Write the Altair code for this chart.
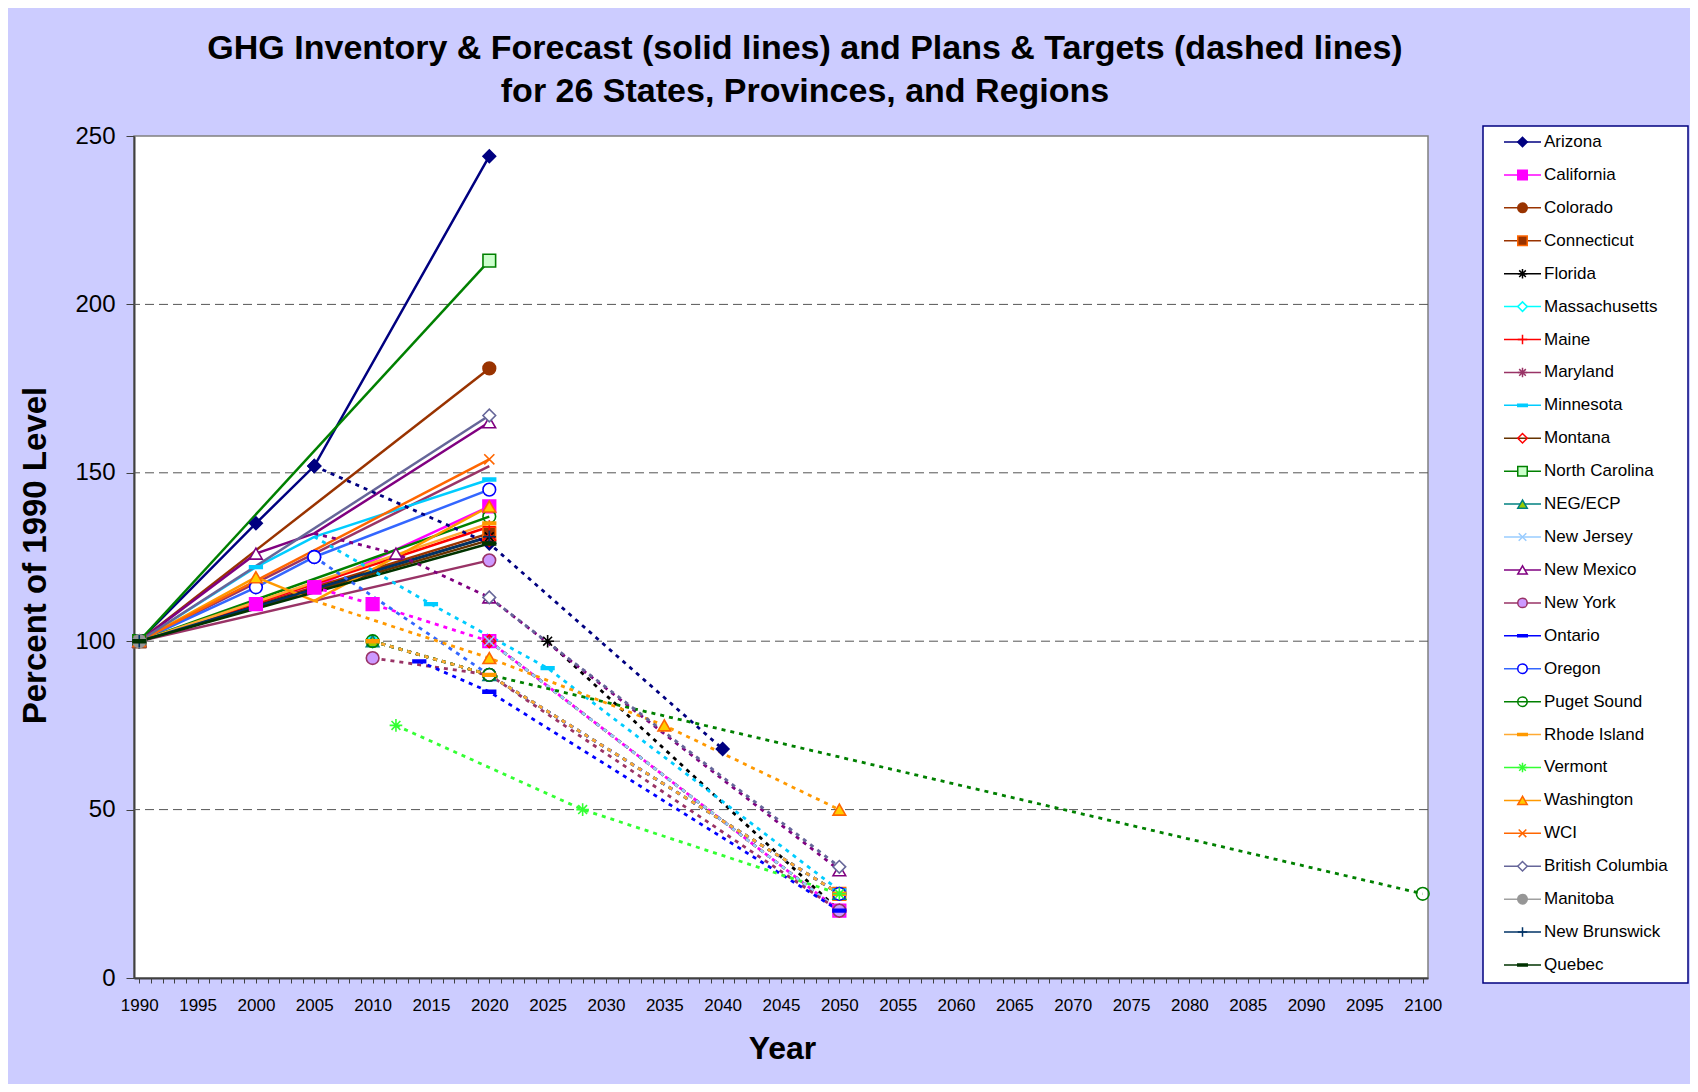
import altair as alt
import pandas as pd

# ---------------- data ----------------
SERIES = ["Arizona", "California", "Colorado", "Connecticut", "Florida",
          "Massachusetts", "Maine", "Maryland", "Minnesota", "Montana",
          "North Carolina", "NEG/ECP", "New Jersey", "New Mexico", "New York",
          "Ontario", "Oregon", "Puget Sound", "Rhode Island", "Vermont",
          "Washington", "WCI", "British Columbia", "Manitoba",
          "New Brunswick", "Quebec"]

# inventory & forecast (solid) and plans & targets (dashed): (year, % of 1990)
arizona_inv = [(1990, 100), (2000, 135), (2005, 152), (2020, 244)]
arizona_plan = [(2005, 152), (2020, 129), (2040, 68)]
california_inv = [(1990, 100), (2000, 111), (2005, 116), (2020, 140)]
california_plan = [(2005, 116), (2010, 111), (2020, 100), (2050, 20)]
colorado_inv = [(1990, 100), (2020, 181)]
colorado_plan = []
connecticut_inv = [(1990, 100), (2020, 132)]
connecticut_plan = [(2010, 100), (2020, 90), (2050, 25)]
florida_inv = [(1990, 100), (2020, 131)]
florida_plan = [(2025, 100), (2050, 20)]
massachusetts_inv = [(1990, 100)]
massachusetts_plan = [(2010, 100), (2020, 90), (2050, 25)]
maine_inv = [(1990, 100), (2020, 134)]
maine_plan = [(2010, 100), (2020, 90), (2050, 25)]
maryland_inv = [(1990, 100), (2020, 152)]
maryland_plan = [(2020, 100), (2050, 20)]
minnesota_inv = [(1990, 100), (2000, 122), (2005, 131), (2020, 148)]
minnesota_plan = [(2005, 131), (2015, 111), (2025, 92), (2050, 26)]
montana_inv = [(1990, 100), (2020, 130)]
montana_plan = [(2020, 100), (2050, 20)]
north_carolina_inv = [(1990, 100), (2020, 213)]
north_carolina_plan = []
neg_ecp_inv = [(1990, 100)]
neg_ecp_plan = [(2010, 100), (2020, 90), (2050, 25)]
new_jersey_inv = [(1990, 100)]
new_jersey_plan = [(2020, 100), (2050, 20)]
new_mexico_inv = [(1990, 100), (2000, 126), (2005, 132), (2020, 165)]
new_mexico_plan = [(2005, 132), (2012, 126), (2020, 113), (2050, 32)]
new_york_inv = [(1990, 100), (2020, 124)]
new_york_plan = [(2010, 95), (2020, 90), (2050, 20)]
ontario_inv = [(1990, 100)]
ontario_plan = [(2014, 94), (2020, 85), (2050, 20)]
oregon_inv = [(1990, 100), (2000, 116), (2005, 125), (2020, 145)]
oregon_plan = [(2005, 125), (2020, 90), (2050, 25)]
puget_sound_inv = [(1990, 100), (2020, 137)]
puget_sound_plan = [(2010, 100), (2020, 90), (2100, 25)]
rhode_island_inv = [(1990, 100), (2020, 135)]
rhode_island_plan = [(2010, 100), (2020, 90), (2050, 25)]
vermont_inv = [(1990, 100)]
vermont_plan = [(2012, 75), (2028, 50), (2050, 25)]
washington_inv = [(1990, 100), (2000, 119), (2005, 112), (2020, 140)]
washington_plan = [(2005, 112), (2020, 95), (2035, 75), (2050, 50)]
wci_inv = [(1990, 100), (2020, 154)]
wci_plan = []
british_columbia_inv = [(1990, 100), (2020, 167)]
british_columbia_plan = [(2020, 113), (2050, 33)]
manitoba_inv = [(1990, 100)]
manitoba_plan = []
new_brunswick_inv = [(1990, 100), (2020, 131)]
new_brunswick_plan = []
quebec_inv = [(1990, 100), (2020, 129)]
quebec_plan = []

INVENTORY = [arizona_inv, california_inv, colorado_inv, connecticut_inv, florida_inv,
             massachusetts_inv, maine_inv, maryland_inv, minnesota_inv, montana_inv,
             north_carolina_inv, neg_ecp_inv, new_jersey_inv, new_mexico_inv, new_york_inv,
             ontario_inv, oregon_inv, puget_sound_inv, rhode_island_inv, vermont_inv,
             washington_inv, wci_inv, british_columbia_inv, manitoba_inv,
             new_brunswick_inv, quebec_inv]
PLANS = [arizona_plan, california_plan, colorado_plan, connecticut_plan, florida_plan,
         massachusetts_plan, maine_plan, maryland_plan, minnesota_plan, montana_plan,
         north_carolina_plan, neg_ecp_plan, new_jersey_plan, new_mexico_plan, new_york_plan,
         ontario_plan, oregon_plan, puget_sound_plan, rhode_island_plan, vermont_plan,
         washington_plan, wci_plan, british_columbia_plan, manitoba_plan,
         new_brunswick_plan, quebec_plan]

# line vertices that carry no marker in the reference: (series, year, kind)
NO_MARKER = [("Washington", 2005, "inv"), ("Washington", 2005, "plan"),
             ("New Mexico", 2005, "inv"), ("New Mexico", 2005, "plan"),
             ("Minnesota", 2005, "inv"), ("Minnesota", 2005, "plan"),
             ("Maryland", 2020, "inv"),
             ("Connecticut", 2010, "plan"), ("Connecticut", 2020, "plan")]

Y_TICKS = [0, 50, 100, 150, 200, 250]
GRID_VALUES = [50, 100, 150, 200]
X_TICKS = list(range(1990, 2101))

# ---------------- styles ----------------
ASTER = "M-1,0L1,0M0,-1L0,1M-0.7,-0.7L0.7,0.7M-0.7,0.7L0.7,-0.7"
XMARK = "M-0.8,-0.8L0.8,0.8M-0.8,0.8L0.8,-0.8"
PLUS = "M-1,0L1,0M0,-1L0,1"
DASH = "M-1,-0.22L1,-0.22L1,0.22L-1,0.22Z"

LINE_COLORS = ["#000080", "#FF00FF", "#993300", "#993300", "#000000",
               "#00FFFF", "#FF0000", "#993366", "#00CCFF", "#663300",
               "#008000", "#008080", "#99CCFF", "#800080", "#993366",
               "#0000FF", "#3366FF", "#008000", "#FFAA33", "#33FF33",
               "#FF9900", "#FF6600", "#666699", "#A0A0A0",
               "#003366", "#003300"]
SHAPES = ["diamond", "square", "circle", "square", ASTER,
          "diamond", PLUS, ASTER, DASH, "diamond",
          "square", "triangle-up", XMARK, "triangle-up", "circle",
          DASH, "circle", "circle", DASH, ASTER,
          "triangle-up", XMARK, "diamond", "circle",
          PLUS, DASH]
FILLS = ["#000080", "#FF00FF", "#993300", "#993300", "transparent",
         "white", "transparent", "transparent", "#00CCFF", "transparent",
         "#CCFFCC", "#99CC00", "transparent", "white", "#CC99FF",
         "#0000FF", "white", "transparent", "#FF9900", "transparent",
         "#FFCC00", "transparent", "white", "#969696",
         "transparent", "#003300"]
STROKES = ["#000080", "#FF00FF", "#993300", "#FF6600", "#000000",
           "#00FFFF", "#FF0000", "#993366", "#00CCFF", "#FF0000",
           "#008000", "#008080", "#99CCFF", "#800080", "#993366",
           "#0000FF", "#0000FF", "#008000", "#FF9900", "#33FF33",
           "#FF6600", "#FF6600", "#666699", "#969696",
           "#003366", "#003300"]

FONT = "Liberation Sans"

# ---------------- tables ----------------
inv_rows, plan_rows, pt_rows = [], [], []
for name, inv, plan in zip(SERIES, INVENTORY, PLANS):
    for yr, v in inv:
        inv_rows.append({"series": name, "year": yr, "value": v})
        if (name, yr, "inv") not in NO_MARKER:
            pt_rows.append({"series": name, "year": yr, "value": v})
    for yr, v in plan:
        plan_rows.append({"series": name, "year": yr, "value": v})
        if (name, yr, "plan") not in NO_MARKER:
            pt_rows.append({"series": name, "year": yr, "value": v})
inv_df = pd.DataFrame(inv_rows)
plan_df = pd.DataFrame(plan_rows)
pt_df = pd.DataFrame(pt_rows)
grid_df = pd.DataFrame({"value": GRID_VALUES})
legend_df = pd.DataFrame({"series": SERIES, "idx": list(range(len(SERIES)))})

color_scale = alt.Scale(domain=SERIES, range=LINE_COLORS)
shape_scale = alt.Scale(domain=SERIES, range=SHAPES)
fill_scale = alt.Scale(domain=SERIES, range=FILLS)
stroke_scale = alt.Scale(domain=SERIES, range=STROKES)

x_enc = alt.X("year:Q",
              scale=alt.Scale(domain=[1989.55, 2100.45], nice=False, zero=False),
              axis=alt.Axis(values=X_TICKS, format="d",
                            labelExpr="datum.value % 5 == 0 ? '' + datum.value : ''",
                            labelOverlap=False, labelFlush=False,
                            labelFont=FONT, labelFontSize=17, labelColor="black",
                            labelPadding=14, tickSize=5, tickColor="#404040",
                            domainColor="#404040", domainWidth=2, grid=False,
                            title="Year", titleFont=FONT, titleFontSize=32,
                            titleFontWeight="bold", titleColor="black",
                            titleX=648, titleY=70, titleAlign="center",
                            titleBaseline="middle"))
y_enc = alt.Y("value:Q",
              scale=alt.Scale(domain=[0, 250], nice=False),
              axis=alt.Axis(values=Y_TICKS, grid=False,
                            labelFont=FONT, labelFontSize=24, labelColor="black",
                            labelPadding=11, tickSize=8, tickColor="#404040",
                            domainColor="#404040", domainWidth=2,
                            title="Percent of 1990 Level", titleFont=FONT,
                            titleFontSize=33, titleFontWeight="bold",
                            titleColor="black", titleAngle=270,
                            titleX=-99, titleY=419, titleAlign="center",
                            titleBaseline="middle"))

grid = alt.Chart(grid_df).mark_rule(color="#555555", strokeWidth=1,
                                    strokeDash=[9, 5]).encode(y=y_enc)

solid = alt.Chart(inv_df).mark_line(strokeWidth=2.5).encode(
    x=x_enc, y=y_enc,
    color=alt.Color("series:N", scale=color_scale, legend=None),
    order="year:Q")

dashed = alt.Chart(plan_df).mark_line(strokeWidth=2.8, strokeDash=[4, 5]).encode(
    x=x_enc, y=y_enc,
    color=alt.Color("series:N", scale=color_scale, legend=None),
    order="year:Q")

points = alt.Chart(pt_df).mark_point(filled=True, size=160, strokeWidth=1.6,
                                     opacity=1).encode(
    x=x_enc, y=y_enc,
    shape=alt.Shape("series:N", scale=shape_scale, legend=None),
    fill=alt.Fill("series:N", scale=fill_scale, legend=None),
    stroke=alt.Stroke("series:N", scale=stroke_scale, legend=None))

main = alt.layer(grid, solid, dashed, points)

# ---------------- hand-drawn legend box ----------------
leg_y = alt.Y("idx:Q", scale=alt.Scale(domain=[0, len(SERIES) - 1], range=[6, 829]),
              axis=None)
box = alt.Chart(pd.DataFrame({"k": [0]})).mark_rect(
    fill="white", stroke="#000080", strokeWidth=1.5).encode(
    x=alt.value(1349), x2=alt.value(1554), y=alt.value(-10), y2=alt.value(847))
leg_lines = alt.Chart(legend_df).mark_rule(strokeWidth=1.5).encode(
    x=alt.value(1370), x2=alt.value(1407), y=leg_y,
    color=alt.Color("series:N", scale=color_scale, legend=None))
leg_pts = alt.Chart(legend_df).mark_point(filled=True, size=90, strokeWidth=1.5,
                                          opacity=1).encode(
    x=alt.value(1388.5), y=leg_y,
    shape=alt.Shape("series:N", scale=shape_scale, legend=None),
    fill=alt.Fill("series:N", scale=fill_scale, legend=None),
    stroke=alt.Stroke("series:N", scale=stroke_scale, legend=None))
leg_text = alt.Chart(legend_df).mark_text(align="left", baseline="middle",
                                          font=FONT, fontSize=17,
                                          color="black").encode(
    x=alt.value(1410), y=leg_y, text="series:N")
legend = alt.layer(box, leg_lines, leg_pts, leg_text)

chart = alt.layer(main, legend).resolve_scale(y="independent").properties(
    width=1294, height=842,
    autosize=alt.AutoSizeParams(type="none"),
    padding={"left": 126, "top": 128, "right": 262, "bottom": 106},
    title=alt.TitleParams(
        text=["GHG Inventory & Forecast (solid lines) and Plans & Targets (dashed lines)",
              "for 26 States, Provinces, and Regions"],
        font=FONT, fontSize=34, fontWeight="bold", color="black",
        anchor="middle", frame="group", offset=15, dx=24, lineHeight=43),
).configure(background="#CCCCFF").configure_view(
    fill="white", stroke="#808080", strokeWidth=1.5)

chart.save("out.html", embed_options={"renderer": "svg", "actions": False})
